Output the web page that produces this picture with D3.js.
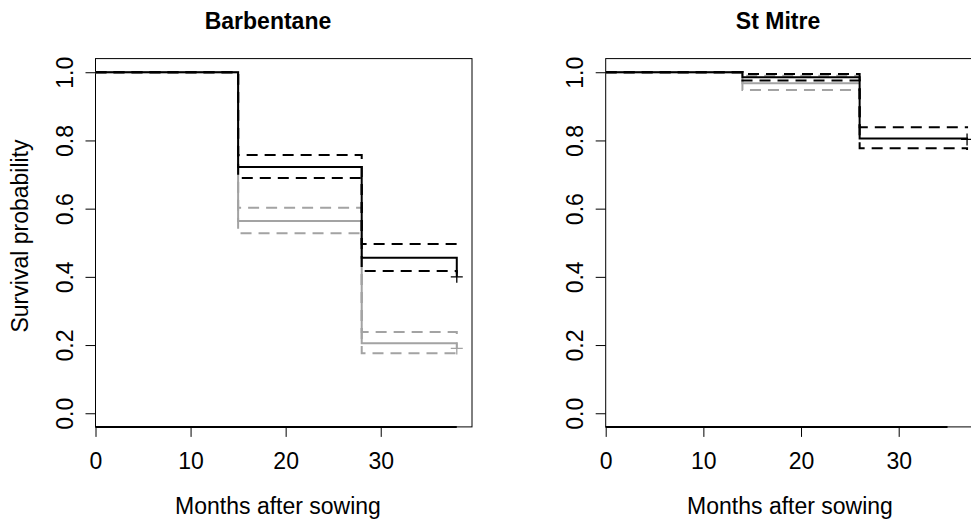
<!DOCTYPE html>
<html><head><meta charset="utf-8">
<script src="https://cdn.jsdelivr.net/npm/d3@7"></script>
<style>
body{margin:0;background:#fff;}
svg{display:block;font-family:"Liberation Sans",Arial,sans-serif;}
</style></head>
<body><svg id="c" width="971" height="521"></svg>
<script>
// ---- data ----
const panelTitles = ["Barbentane", "St Mitre"];
const xTicks = [0, 10, 20, 30];
const yTicks = [0, 0.2, 0.4, 0.6, 0.8, 1.0];
const yTickLabels = ["0.0", "0.2", "0.4", "0.6", "0.8", "1.0"];
const xLabel = "Months after sowing";
const yLabel = "Survival probability";

// Barbentane
const barbTimes = [0, 15, 28, 38];
const barbBlackSurv = [1, 0.722, 0.456, 0.40];
const barbBlackUpper = [1, 0.757, 0.496, 0.49];
const barbBlackLower = [1, 0.690, 0.417, 0.41];
const barbGreySurv = [1, 0.564, 0.205, 0.19];
const barbGreyUpper = [1, 0.603, 0.238, 0.232];
const barbGreyLower = [1, 0.528, 0.176, 0.172];
const barbCensorTime = 38;
const barbBlackCensor = 0.40;
const barbGreyCensor = 0.19;

// St Mitre
const mitreBlackTimes = [0, 14, 26, 37];
const mitreBlackSurv = [1, 0.985, 0.806, 0.803];
const mitreBlackUpper = [1, 0.995, 0.839, 0.836];
const mitreBlackLower = [1, 0.976, 0.777, 0.772];
const mitreGreyTimes = [0, 14, 26];
const mitreGreySurv = [1, 0.968, 0.968];
const mitreGreyUpper = [1, 0.990, 0.990];
const mitreGreyLower = [1, 0.948, 0.948];
const mitreCensorTime = 37;
const mitreBlackCensor = 0.803;

const xMax = [39.6, 38.55];
const baseEnd = [38, 35];

// ---- drawing ----
const svg = d3.select("#c");
const GREY = "#a3a3a3";
const DASH = "11,7";
const FS = 23;

const y = d3.scaleLinear().domain([-0.04, 1.04]).range([426.9, 58.6]);

const panels = [
  {left: 95.5, right: 472, title: panelTitles[0], titleX: 268, xlabX: 278, ylab: true,
   curves: [
     {t: barbTimes, v: barbGreyLower, c: GREY, dash: DASH},
     {t: barbTimes, v: barbGreyUpper, c: GREY, dash: DASH},
     {t: barbTimes, v: barbGreySurv, c: GREY},
     {t: barbTimes, v: barbBlackLower, c: "#000", dash: DASH},
     {t: barbTimes, v: barbBlackUpper, c: "#000", dash: DASH},
     {t: barbTimes, v: barbBlackSurv, c: "#000"}
   ],
   censors: [{t: barbCensorTime, v: barbGreyCensor, c: GREY}, {t: barbCensorTime, v: barbBlackCensor, c: "#000"}],
   xMax: xMax[0], baseEnd: baseEnd[0]},
  {left: 605.7, right: 982.2, title: panelTitles[1], titleX: 778, xlabX: 790, ylab: false,
   curves: [
     {t: mitreGreyTimes, v: mitreGreyLower, c: GREY, dash: DASH},
     {t: mitreGreyTimes, v: mitreGreyUpper, c: GREY, dash: DASH},
     {t: mitreGreyTimes, v: mitreGreySurv, c: GREY},
     {t: mitreBlackTimes, v: mitreBlackLower, c: "#000", dash: DASH},
     {t: mitreBlackTimes, v: mitreBlackUpper, c: "#000", dash: DASH},
     {t: mitreBlackTimes, v: mitreBlackSurv, c: "#000"}
   ],
   censors: [{t: mitreCensorTime, v: mitreBlackCensor, c: "#000"}],
   xMax: xMax[1], baseEnd: baseEnd[1]}
];

panels.forEach(p => {
  const x = d3.scaleLinear().domain([0, p.xMax]).range([p.left, p.right]);
  const g = svg.append("g");

  // box
  g.append("rect").attr("x", p.left).attr("y", y(1.04)).attr("width", p.right - p.left)
    .attr("height", y(-0.04) - y(1.04)).attr("fill", "none").attr("stroke", "#000").attr("stroke-width", 1);
  g.append("line").attr("x1", x(0)).attr("x2", x(p.baseEnd)).attr("y1", y(-0.04)).attr("y2", y(-0.04))
    .attr("stroke", "#000").attr("stroke-width", 2);

  // curves
  const line = d3.line().x(d => x(d[0])).y(d => y(d[1])).curve(d3.curveStepAfter);
  p.curves.forEach(c => {
    g.append("path").attr("d", line(c.t.map((t, i) => [t, c.v[i]])))
      .attr("fill", "none").attr("stroke", c.c).attr("stroke-width", 2)
      .attr("stroke-dasharray", c.dash || null);
  });
  p.censors.forEach(c => {
    const cx = x(c.t), cy = y(c.v);
    g.append("path").attr("d", `M${cx - 6},${cy}H${cx + 6}M${cx},${cy - 6}V${cy + 6}`)
      .attr("stroke", c.c).attr("stroke-width", 1.3).attr("fill", "none");
  });

  // x axis
  const xa = g.append("g").attr("transform", `translate(0,${y(-0.04)})`)
    .call(d3.axisBottom(x).tickValues(xTicks).tickSize(10).tickFormat(d3.format("d")));
  xa.select(".domain").remove();
  xa.selectAll("line").attr("stroke", "#000");
  xa.selectAll("text").attr("font-size", FS).attr("fill", "#000").attr("dy", null).attr("y", 42);

  // y axis
  const ya = g.append("g").attr("transform", `translate(${p.left},0)`)
    .call(d3.axisLeft(y).tickValues(yTicks).tickSize(10).tickFormat((d, i) => yTickLabels[i]));
  ya.select(".domain").remove();
  ya.selectAll("line").attr("stroke", "#000");
  ya.selectAll("text").attr("font-size", FS).attr("fill", "#000")
    .attr("x", null).attr("dy", null).attr("text-anchor", "middle")
    .attr("transform", "translate(-23,0) rotate(-90)");

  // titles
  g.append("text").attr("x", p.titleX).attr("y", 28.5).attr("text-anchor", "middle")
    .attr("font-size", FS).attr("font-weight", "bold").text(p.title);
  g.append("text").attr("x", p.xlabX).attr("y", 514).attr("text-anchor", "middle")
    .attr("font-size", FS).text(xLabel);
  if (p.ylab) {
    g.append("text").attr("transform", `translate(28,236) rotate(-90)`).attr("text-anchor", "middle")
      .attr("font-size", FS).text(yLabel);
  }
});
</script>
</body></html>
